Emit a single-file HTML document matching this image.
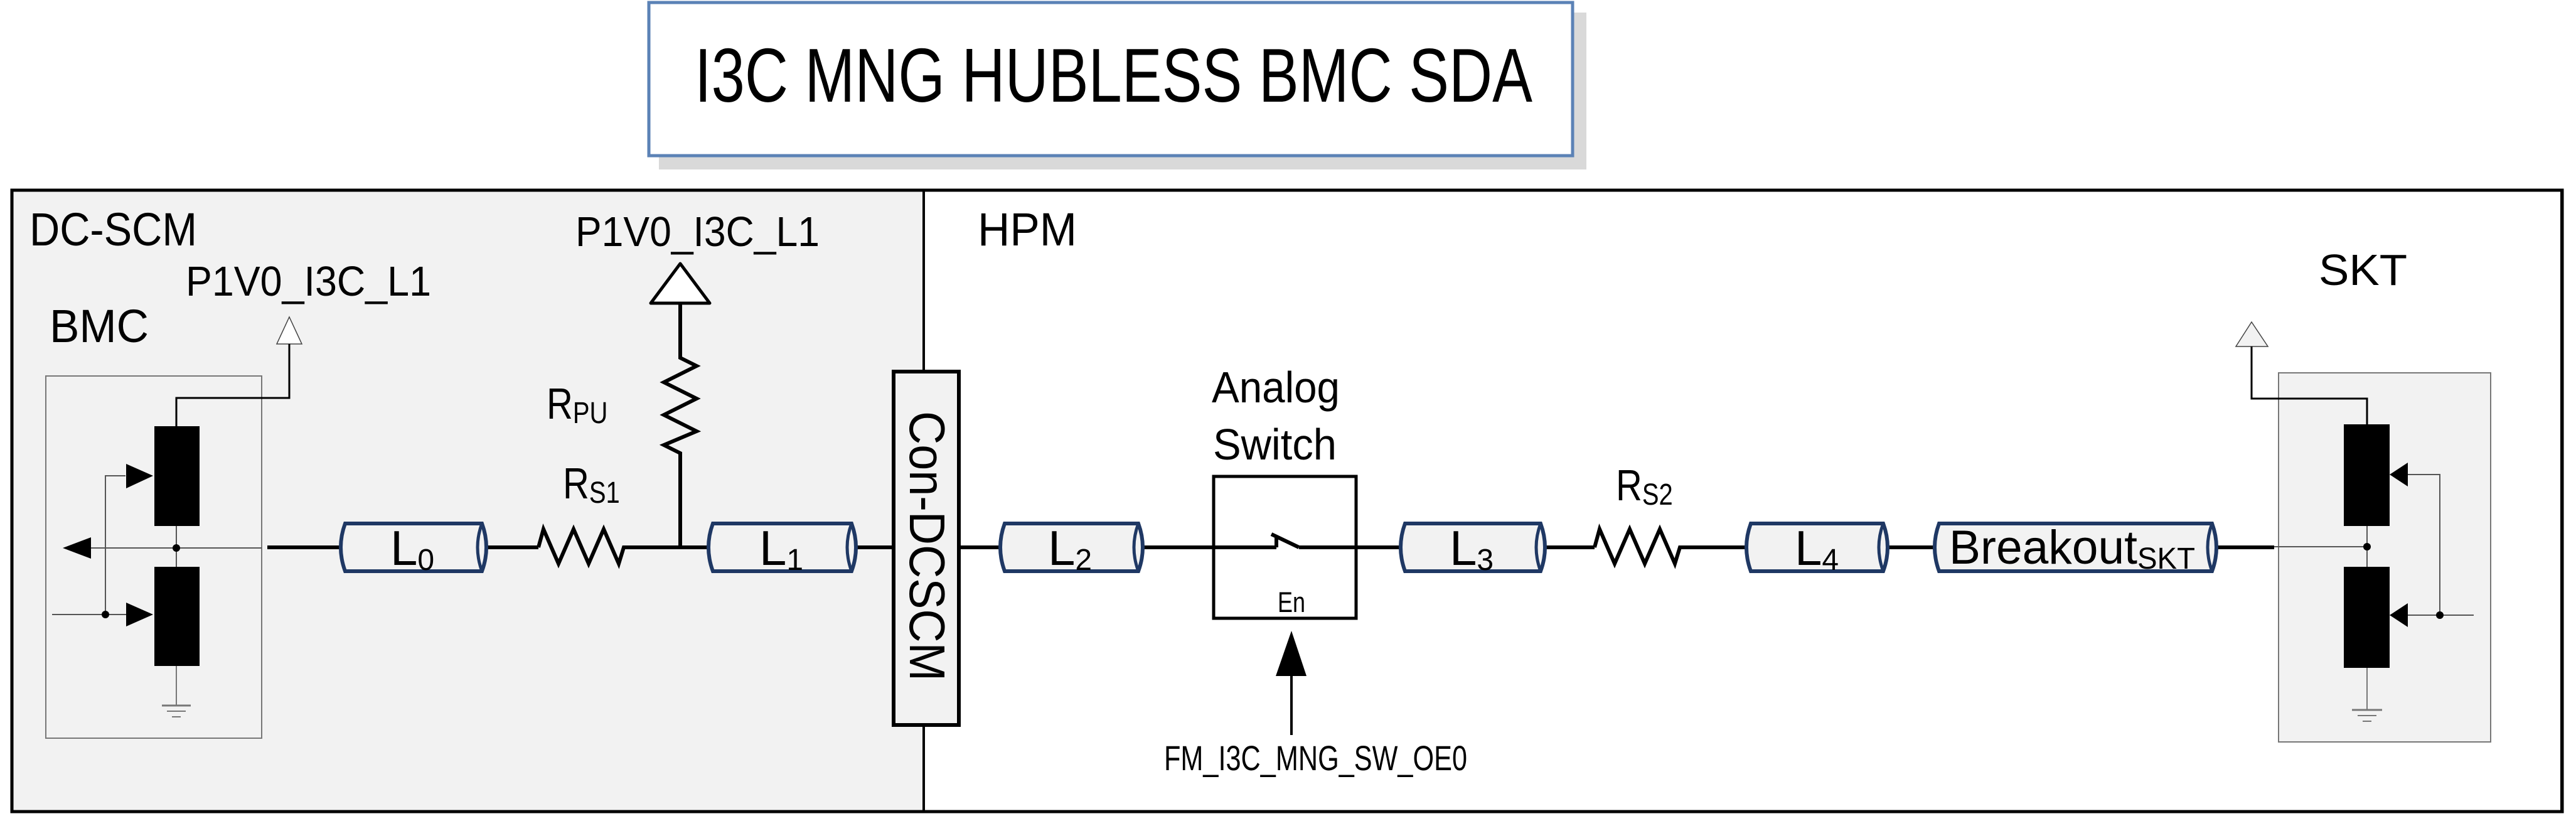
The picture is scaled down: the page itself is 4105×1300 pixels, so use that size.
<!DOCTYPE html>
<html><head><meta charset="utf-8"><style>
html,body{margin:0;padding:0;background:#fff;}
svg{display:block;}
text{font-family:"Liberation Sans Narrow","Liberation Sans",sans-serif;fill:#000;}
.a{font-family:"Liberation Sans",sans-serif;}
</style></head><body>
<svg width="4105" height="1300" viewBox="0 0 4105 1300" xmlns="http://www.w3.org/2000/svg">
<!-- title -->
<rect x="1050" y="20" width="1478" height="250" fill="#d9d9d9"/>
<rect x="1034" y="4" width="1472" height="244" fill="#fff" stroke="#5b82b6" stroke-width="5"/>
<text transform="translate(1107,162) scale(1,1.22)" font-size="100" textLength="1335" lengthAdjust="spacingAndGlyphs">I3C MNG HUBLESS BMC SDA</text>

<!-- regions -->
<rect x="19" y="303" width="1453" height="990" fill="#f2f2f2"/>
<rect x="19" y="303" width="4064" height="990" fill="none" stroke="#000" stroke-width="5"/>
<rect x="4080" y="303" width="3" height="990" fill="#000"/>
<line x1="1472" y1="303" x2="1472" y2="1293" stroke="#000" stroke-width="4"/>

<text transform="translate(47,391) scale(1,1.2)" font-size="62" textLength="267" lengthAdjust="spacingAndGlyphs">DC-SCM</text>
<text transform="translate(1558,391) scale(1,1.2)" font-size="62" textLength="158" lengthAdjust="spacingAndGlyphs">HPM</text>
<text transform="translate(79,545) scale(1,1.2)" font-size="62" textLength="158" lengthAdjust="spacingAndGlyphs">BMC</text>
<text transform="translate(296,471) scale(1,1.2)" font-size="56" textLength="391" lengthAdjust="spacingAndGlyphs">P1V0_I3C_L1</text>
<text transform="translate(917,392) scale(1,1.2)" font-size="56" textLength="389" lengthAdjust="spacingAndGlyphs">P1V0_I3C_L1</text>

<!-- BMC box -->
<rect x="73" y="599" width="344" height="577" fill="#f2f2f2" stroke="#777" stroke-width="2"/>
<polygon points="461,505 441,548 481,548" fill="#fff" stroke="#444" stroke-width="1.5"/>
<polyline points="461,548 461,634 281,634 281,680" fill="none" stroke="#000" stroke-width="3"/>
<rect x="246" y="679" width="72" height="159" fill="#000"/>
<rect x="246" y="903" width="72" height="158" fill="#000"/>
<line x1="281" y1="838" x2="281" y2="903" stroke="#555" stroke-width="2"/>
<line x1="120" y1="873" x2="417" y2="873" stroke="#555" stroke-width="2"/>
<polygon points="100,873 145,856 145,890" fill="#000"/>
<circle cx="281" cy="873" r="6" fill="#000"/>
<polyline points="200,758 168,758 168,979" fill="none" stroke="#555" stroke-width="2"/>
<line x1="83" y1="979" x2="205" y2="979" stroke="#555" stroke-width="2"/>
<circle cx="168" cy="979" r="6" fill="#000"/>
<polygon points="244,758 201,739 201,778" fill="#000"/>
<polygon points="244,979 201,960 201,998" fill="#000"/>
<line x1="281" y1="1061" x2="281" y2="1124" stroke="#777" stroke-width="2"/>
<line x1="258" y1="1124" x2="304" y2="1124" stroke="#777" stroke-width="3"/>
<line x1="266" y1="1133" x2="296" y2="1133" stroke="#777" stroke-width="2"/>
<line x1="274" y1="1142" x2="288" y2="1142" stroke="#777" stroke-width="2"/>

<!-- main wires -->
<g stroke="#000" stroke-width="6" fill="none">
<line x1="426" y1="872" x2="543" y2="872"/>
<line x1="775" y1="872" x2="858" y2="872"/>
<polyline points="858,872 866,843 890,898 914,843 938,898 962,843 986,898 994,872 1084,872"/>
<line x1="1084" y1="872" x2="1129" y2="872"/>
<polyline points="1084,484 1084,570 1110,583 1058,609 1110,635 1058,661 1110,687 1058,709 1084,722 1084,872"/>
<line x1="1364" y1="872" x2="1424" y2="872"/>
<line x1="1528" y1="872" x2="1594" y2="872"/>
<line x1="1821" y1="872" x2="2034" y2="872"/>
<line x1="2034" y1="872" x2="2034" y2="853"/>
<line x1="2026" y1="851" x2="2070" y2="872"/>
<line x1="2070" y1="872" x2="2232" y2="872"/>
<line x1="2462" y1="872" x2="2541" y2="872"/>
<polyline points="2541,872 2549,843 2573,898 2597,843 2621,898 2645,843 2669,898 2677,872 2783,872"/>
<line x1="3008" y1="872" x2="3083" y2="872"/>
<line x1="3532" y1="872" x2="3624" y2="872"/>
</g>
<polygon points="1084,420 1037,483 1131,483" fill="#fff" stroke="#000" stroke-width="5" stroke-linejoin="round"/>
<text transform="translate(871,667) scale(1,1.2)" font-size="58">R<tspan font-size="40" dy="6">PU</tspan></text>
<text transform="translate(897,794) scale(1,1.2)" font-size="58">R<tspan font-size="40" dy="6">S1</tspan></text>
<text transform="translate(2575,797) scale(1,1.2)" font-size="58">R<tspan font-size="40" dy="6">S2</tspan></text>

<!-- cylinders -->
<g fill="#f2f2f2" stroke="#1f3864" stroke-width="6">
<path d="M550,834 L768,834 Q782,872 768,910 L550,910 Q536,872 550,834 Z"/>
<path d="M1136,834 L1357,834 Q1371,872 1357,910 L1136,910 Q1122,872 1136,834 Z"/>
<path d="M1601,834 L1814,834 Q1828,872 1814,910 L1601,910 Q1587,872 1601,834 Z"/>
<path d="M2239,834 L2455,834 Q2469,872 2455,910 L2239,910 Q2225,872 2239,834 Z"/>
<path d="M2790,834 L3001,834 Q3015,872 3001,910 L2790,910 Q2776,872 2790,834 Z"/>
<path d="M3090,834 L3525,834 Q3539,872 3525,910 L3090,910 Q3076,872 3090,834 Z"/>
</g>
<g fill="none" stroke="#1f3864" stroke-width="5">
<path d="M768,834 Q754,872 768,910"/>
<path d="M1357,834 Q1343,872 1357,910"/>
<path d="M1814,834 Q1800,872 1814,910"/>
<path d="M2455,834 Q2441,872 2455,910"/>
<path d="M3001,834 Q2987,872 3001,910"/>
<path d="M3525,834 Q3511,872 3525,910"/>
</g>
<text class="a" x="622" y="900" font-size="78">L<tspan font-size="48" dy="8">0</tspan></text>
<text class="a" x="1210" y="900" font-size="78">L<tspan font-size="48" dy="8">1</tspan></text>
<text class="a" x="1670" y="900" font-size="78">L<tspan font-size="48" dy="8">2</tspan></text>
<text class="a" x="2310" y="900" font-size="78">L<tspan font-size="48" dy="8">3</tspan></text>
<text class="a" x="2860" y="900" font-size="78">L<tspan font-size="48" dy="8">4</tspan></text>
<text class="a" x="3106" y="898" font-size="76" textLength="392" lengthAdjust="spacingAndGlyphs">Breakout<tspan font-size="48" dy="8">SKT</tspan></text>

<!-- connector -->
<rect x="1424" y="592" width="104" height="563" fill="#f2f2f2" stroke="#000" stroke-width="6"/>
<text class="a" transform="translate(1450,655) rotate(90)" font-size="80" textLength="430" lengthAdjust="spacingAndGlyphs">Con-DCSCM</text>

<!-- analog switch -->
<text transform="translate(1931,641) scale(1,1.2)" font-size="58" textLength="204" lengthAdjust="spacingAndGlyphs">Analog</text>
<text transform="translate(1933,732) scale(1,1.2)" font-size="58" textLength="197" lengthAdjust="spacingAndGlyphs">Switch</text>
<rect x="1934" y="759" width="227" height="226" fill="none" stroke="#000" stroke-width="5"/>
<text transform="translate(2036,975) scale(1,1.2)" font-size="38" textLength="44" lengthAdjust="spacingAndGlyphs">En</text>
<polygon points="2058,1005 2033,1077 2082,1077" fill="#000"/>
<line x1="2058" y1="1075" x2="2058" y2="1171" stroke="#000" stroke-width="4"/>
<text transform="translate(1855,1227) scale(1,1.2)" font-size="46" textLength="483" lengthAdjust="spacingAndGlyphs">FM_I3C_MNG_SW_OE0</text>

<!-- SKT -->
<text class="a" x="3695" y="454" font-size="70" textLength="141" lengthAdjust="spacingAndGlyphs">SKT</text>
<rect x="3631" y="594" width="338" height="588" fill="#f2f2f2" stroke="#777" stroke-width="2"/>
<polygon points="3588,513 3563,552 3614,552" fill="#f2f2f2" stroke="#444" stroke-width="1.5"/>
<polyline points="3588,552 3588,635 3772,635 3772,677" fill="none" stroke="#000" stroke-width="3"/>
<line x1="3624" y1="871" x2="3772" y2="871" stroke="#555" stroke-width="2"/>
<rect x="3735" y="676" width="73" height="162" fill="#000"/>
<rect x="3735" y="903" width="73" height="161" fill="#000"/>
<line x1="3772" y1="838" x2="3772" y2="903" stroke="#555" stroke-width="2"/>
<circle cx="3772" cy="871" r="6" fill="#000"/>
<polyline points="3835,756 3888,756 3888,980" fill="none" stroke="#555" stroke-width="2"/>
<line x1="3835" y1="980" x2="3942" y2="980" stroke="#555" stroke-width="2"/>
<circle cx="3888" cy="980" r="6" fill="#000"/>
<polygon points="3808,756 3837,737 3837,775" fill="#000"/>
<polygon points="3808,980 3837,961 3837,999" fill="#000"/>
<line x1="3772" y1="1064" x2="3772" y2="1131" stroke="#777" stroke-width="2"/>
<line x1="3748" y1="1131" x2="3796" y2="1131" stroke="#777" stroke-width="3"/>
<line x1="3757" y1="1140" x2="3787" y2="1140" stroke="#777" stroke-width="2"/>
<line x1="3765" y1="1149" x2="3779" y2="1149" stroke="#777" stroke-width="2"/>
</svg>
</body></html>
